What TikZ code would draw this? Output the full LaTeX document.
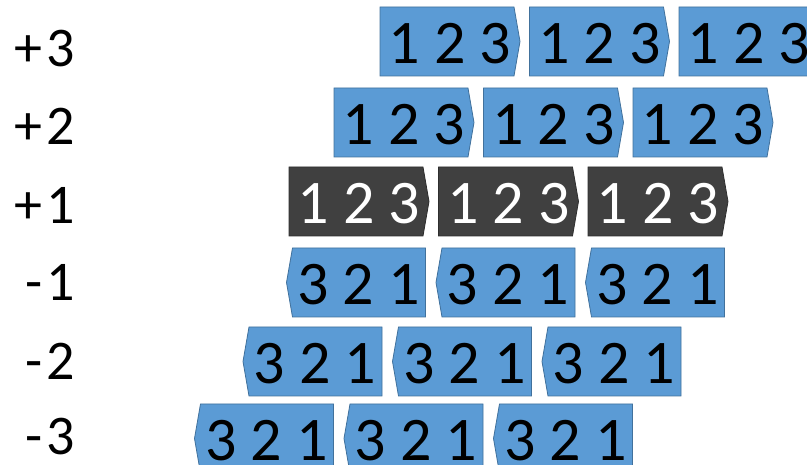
\documentclass[tikz,border=0pt]{standalone}
\usepackage{fontspec}
\setmainfont{Carlito}
\definecolor{boxblue}{HTML}{5B9BD5}
\definecolor{boxedge}{HTML}{41719C}
\definecolor{boxdark}{HTML}{404040}
\definecolor{darkedge}{HTML}{2E2E2E}
\tikzset{
  bluebox/.style={fill=boxblue, draw=boxedge, line width=0.8pt},
  darkbox/.style={fill=boxdark, draw=darkedge, line width=0.8pt},
  numtext/.style={font=\fontsize{62}{62}\selectfont, inner sep=0pt, text=black},
  numwhite/.style={numtext, text=white},
  rowlabel/.style={font=\fontsize{56}{56}\selectfont, inner sep=0pt, anchor=east, text=black}
}
% right-pointing box: #1 name, #2 left x, #3 centre y, #4 box style, #5 text style
\newcommand\rightbox[5]{%
  \draw[#4] (#2,#3-34.5) -- (#2+134,#3-34.5) -- (#2+140,#3) -- (#2+134,#3+34.5) -- (#2,#3+34.5) -- cycle;
  \node[#5] (#1) at (#2+70,#3+2.5) {1 2 3};
}
% left-pointing box: #1 name, #2 tip x, #3 centre y, #4 box style, #5 text style
\newcommand\leftbox[5]{%
  \draw[#4] (#2,#3) -- (#2+6,#3-34.5) -- (#2+139,#3-34.5) -- (#2+139,#3+34.5) -- (#2+6,#3+34.5) -- cycle;
  \node[#5] (#1) at (#2+72,#3+2.5) {3 2 1};
}
\begin{document}
\begin{tikzpicture}[x=1pt,y=-1pt]
\useasboundingbox (0,0) rectangle (807,465);
\clip (0,0) rectangle (807,465);
% row labels
\node[rowlabel] (lp3) at (75,48.5) {+\kern4pt3};
\node[rowlabel] (lp2) at (75,126.5) {+\kern4pt2};
\node[rowlabel] (lp1) at (75,205) {+\kern4pt1};
\node[rowlabel] (lm1) at (75,282) {-\kern4pt1};
\node[rowlabel] (lm2) at (75,361) {-\kern4pt2};
\node[rowlabel] (lm3) at (75,437) {-\kern4pt3};
% +3
\rightbox{a1}{380}{41.5}{bluebox}{numtext}
\rightbox{a2}{529.5}{41.5}{bluebox}{numtext}
\rightbox{a3}{679}{41.5}{bluebox}{numtext}
% +2
\rightbox{b1}{334}{122.5}{bluebox}{numtext}
\rightbox{b2}{483.5}{122.5}{bluebox}{numtext}
\rightbox{b3}{633}{122.5}{bluebox}{numtext}
% +1
\rightbox{c1}{289}{201.5}{darkbox}{numwhite}
\rightbox{c2}{438.5}{201.5}{darkbox}{numwhite}
\rightbox{c3}{588}{201.5}{darkbox}{numwhite}
% -1
\leftbox{d1}{286.5}{282.5}{bluebox}{numtext}
\leftbox{d2}{436}{282.5}{bluebox}{numtext}
\leftbox{d3}{585.5}{282.5}{bluebox}{numtext}
% -2
\leftbox{e1}{243}{361.5}{bluebox}{numtext}
\leftbox{e2}{392.5}{361.5}{bluebox}{numtext}
\leftbox{e3}{542}{361.5}{bluebox}{numtext}
% -3
\leftbox{f1}{194.5}{438.5}{bluebox}{numtext}
\leftbox{f2}{344}{438.5}{bluebox}{numtext}
\leftbox{f3}{493.5}{438.5}{bluebox}{numtext}
\end{tikzpicture}
\end{document}
